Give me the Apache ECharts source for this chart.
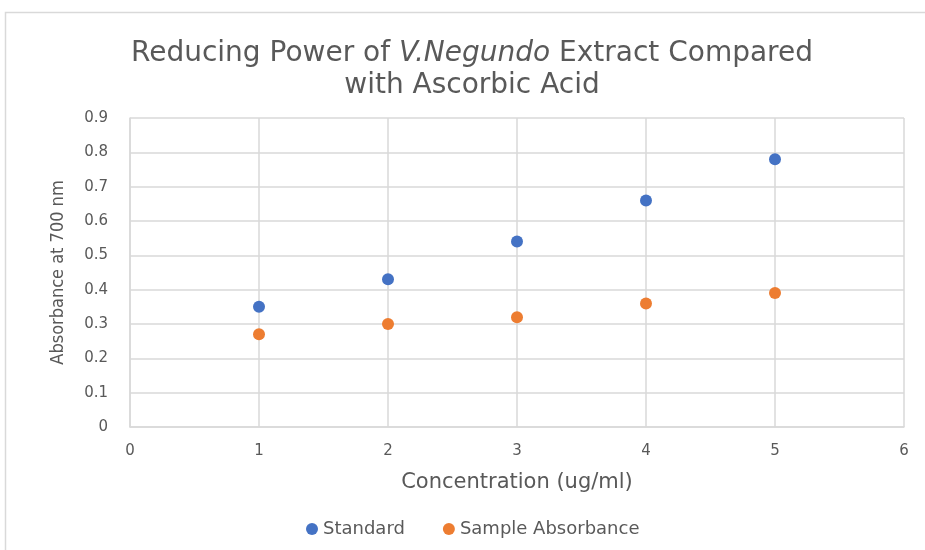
<!DOCTYPE html>
<html>
<head>
<meta charset="utf-8">
<script src="https://cdn.jsdelivr.net/npm/echarts@6/dist/echarts.min.js"></script>
<style>
  html, body { margin: 0; padding: 0; background: #ffffff; }
  #chart { width: 925px; height: 550px; }
</style>
</head>
<body>
<div id="chart"></div>
<script>
// Concentration (ug/ml) and absorbance readings at 700 nm
const concentrations = [1, 2, 3, 4, 5];
const standardValues = [0.35, 0.43, 0.54, 0.66, 0.78];
const sampleValues = [0.27, 0.30, 0.32, 0.36, 0.39];
const seriesNames = ['Standard', 'Sample Absorbance'];

const textColor = '#595959';
const gridColor = '#d9d9d9';
const font = '"DejaVu Sans", "Open Sans", sans-serif';
const narrowFont = '"DejaVu Sans Condensed", "Liberation Sans Narrow", sans-serif';

const chart = echarts.init(document.getElementById('chart'));

chart.setOption({
  backgroundColor: '#ffffff',
  animation: false,
  graphic: [{
    type: 'rect',
    shape: { x: 5.5, y: 12.5, width: 940, height: 560 },
    style: { fill: 'none', stroke: gridColor, lineWidth: 1.5 },
    silent: true
  }],
  title: {
    text: '{n|Reducing Power of }{i|V.Negundo}{n| Extract Compared}\n{n|with Ascorbic Acid}',
    left: 467,
    top: 33,
    textAlign: 'center',
    textStyle: {
      fontWeight: 'normal',
      rich: {
        n: { fontFamily: font, fontSize: 28, fontWeight: 'normal', color: textColor, lineHeight: 32 },
        i: { fontFamily: font, fontSize: 28, fontWeight: 'normal', color: textColor, fontStyle: 'italic', lineHeight: 32 }
      }
    }
  },
  grid: { left: 130, right: 21, top: 118, bottom: 123, containLabel: false },
  legend: {
    data: seriesNames,
    bottom: 7,
    left: 301,
    itemGap: 38,
    itemWidth: 12,
    itemHeight: 12,
    icon: 'circle',
    textStyle: { fontFamily: font, fontSize: 18, color: textColor }
  },
  xAxis: {
    type: 'value',
    min: 0,
    max: 6,
    interval: 1,
    name: 'Concentration (ug/ml)',
    nameLocation: 'middle',
    nameGap: 45,
    nameTextStyle: { fontFamily: font, fontSize: 21, color: textColor },
    axisLine: { show: true, lineStyle: { color: gridColor, width: 1.5 } },
    axisTick: { show: false },
    axisLabel: { fontFamily: font, fontSize: 15, color: textColor, margin: 17 },
    splitLine: { show: true, lineStyle: { color: gridColor, width: 1.5 } }
  },
  yAxis: {
    type: 'value',
    min: 0,
    max: 0.9,
    interval: 0.1,
    name: 'Absorbance at 700 nm',
    nameLocation: 'middle',
    nameGap: 63,
    nameTextStyle: { fontFamily: narrowFont, fontSize: 18, color: textColor },
    axisLine: { show: true, lineStyle: { color: gridColor, width: 1.5 } },
    axisTick: { show: false },
    axisLabel: {
      fontFamily: font, fontSize: 15, color: textColor, margin: 22,
      formatter: v => (Math.round(v * 10) / 10).toString()
    },
    splitLine: { show: true, lineStyle: { color: gridColor, width: 1.5 } }
  },
  series: [
    {
      name: seriesNames[0],
      type: 'scatter',
      symbol: 'circle',
      symbolSize: 12,
      itemStyle: { color: '#4472c4', opacity: 1 },
      data: concentrations.map((c, i) => [c, standardValues[i]])
    },
    {
      name: seriesNames[1],
      type: 'scatter',
      symbol: 'circle',
      symbolSize: 12,
      itemStyle: { color: '#ed7d31', opacity: 1 },
      data: concentrations.map((c, i) => [c, sampleValues[i]])
    }
  ]
});
</script>
</body>
</html>
